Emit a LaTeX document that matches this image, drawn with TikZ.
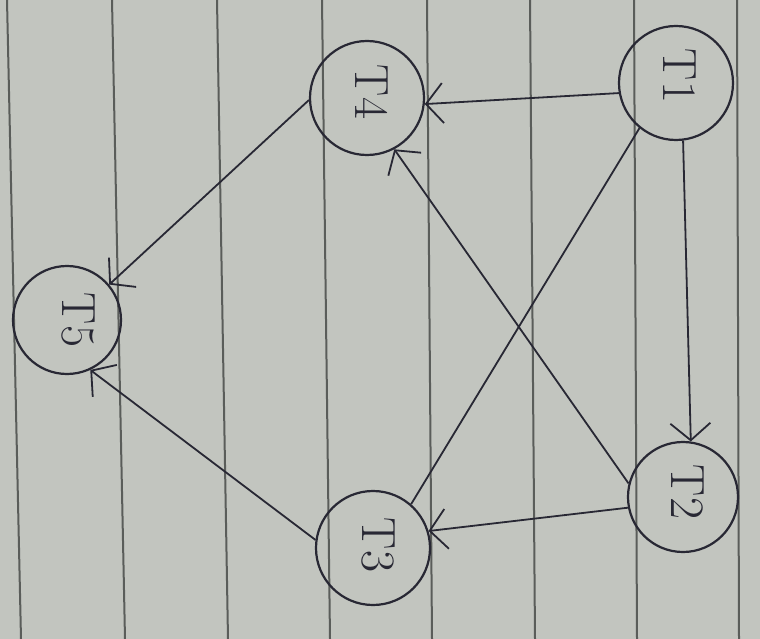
\documentclass[tikz,border=0pt]{standalone}
\usetikzlibrary{arrows.meta}
\begin{document}
\begin{tikzpicture}[x=1pt,y=-1pt,
  ink/.style={draw=inkc, line width=2.2pt},
  vtx/.style={circle, ink, minimum size=114pt, inner sep=0pt},
  lab/.style={rotate=-90, text=inkc, font=\fontsize{48}{48}\selectfont},
  edge/.style={ink, line width=1.8pt, -{Straight Barb[length=17pt,width=40pt,line width=1.8pt]}},
  plain/.style={ink, line width=1.8pt},
  paper/.style={draw=linec, line width=2pt}]
\definecolor{inkc}{RGB}{40,40,52}
\definecolor{linec}{RGB}{90,93,90}
\definecolor{bgc}{RGB}{194,197,191}
\useasboundingbox (0,0) rectangle (760,639);
\fill[bgc] (0,0) rectangle (760,639);
% ruled paper lines
\draw[paper] (7,0) -- (21,639);
\draw[paper] (112,0) -- (125,639);
\draw[paper] (217,0) -- (228,639);
\draw[paper] (322,0) -- (330,639);
\draw[paper] (427,0) -- (432,639);
\draw[paper] (530,0) -- (535,639);
\draw[paper] (634,0) -- (637,639);
\draw[paper] (737,0) -- (739,639);
% nodes
\node[vtx] (T4) at (367,98) {};
\node[vtx] (T1) at (676,83) {};
\node[vtx, minimum size=108pt] (T5) at (67,320) {};
\node[vtx] (T3) at (373,548) {};
\node[vtx, minimum size=110pt] (T2) at (683,497) {};
\node[lab] (L4) at (372,92) {T4};
\node[lab] (L1) at (680,76) {T1};
\node[lab] (L5) at (78,320) {T5};
\node[lab] (L3) at (378,545) {T3};
\node[lab] (L2) at (688,492) {T2};
% connectors
\draw[edge] (T1.190) -- (T4.354);
\draw[edge] (T1.277) -- (T2.82);
\draw[plain] (T1.231) -- (T3.49);
\draw[edge] (T2.166) -- (T4.298);
\draw[edge] (T2.191) -- (T3.17);
\draw[edge] (T4.182) -- (T5.40);
\draw[edge] (T3.172) -- (T5.295);
\end{tikzpicture}
\end{document}
